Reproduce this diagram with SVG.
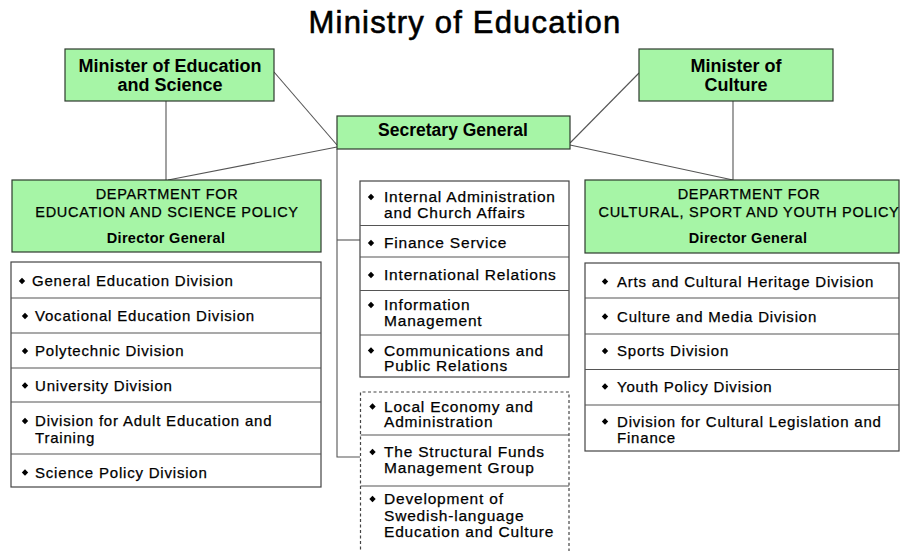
<svg xmlns="http://www.w3.org/2000/svg" width="900" height="551" viewBox="0 0 900 551">
<defs>
<style>
.g{fill:#a6f5a6;stroke:#2e3a2e;stroke-width:1.2}
.w{fill:#fff;stroke:#444;stroke-width:1.2}
.d{fill:#fff;stroke:#444;stroke-width:1.2;stroke-dasharray:3 2.5}
.div{stroke:#555;stroke-width:1.2;fill:none}
.c{stroke:#555;stroke-width:1.1;fill:none}
text{font-family:"Liberation Sans",Arial,sans-serif;fill:#000}
.t{font-size:31px;letter-spacing:1.2px;text-anchor:middle;stroke:#000;stroke-width:0.6}
.m{font-size:18px;font-weight:bold;text-anchor:middle}
.s{font-size:17.5px;font-weight:bold;text-anchor:middle}
.h{font-size:14.5px;letter-spacing:0.7px;text-anchor:middle;stroke:#000;stroke-width:0.25}
.hb{font-size:14.5px;font-weight:bold;letter-spacing:0.3px;text-anchor:middle}
.li{font-size:15px;letter-spacing:0.8px;stroke:#000;stroke-width:0.25}
.ci{font-size:15.5px;letter-spacing:0.8px;stroke:#000;stroke-width:0.25}
</style>
<path id="b" d="M0,-3.2 L3.2,0 L0,3.2 L-3.2,0Z" fill="#000"/>
</defs>
<rect width="900" height="551" fill="#fff"/>
<text class="t" x="465" y="33">Ministry of Education</text>

<g id="connectors">
<line class="c" x1="166" y1="101" x2="166" y2="180"/>
<line class="c" x1="274" y1="72" x2="337" y2="145"/>
<line class="c" x1="337" y1="147" x2="168" y2="180"/>
<line class="c" x1="570" y1="143" x2="639" y2="73"/>
<line class="c" x1="570" y1="145" x2="733" y2="180"/>
<line class="c" x1="733" y1="101" x2="733" y2="180"/>
<polyline class="c" points="337,149 337,457 360,457"/>
<line class="c" x1="337" y1="240" x2="360" y2="240"/>
</g>

<g id="minister-education">
<rect class="g" x="65" y="49" width="209" height="52"/>
<text class="m" x="170" y="72">Minister of Education</text>
<text class="m" x="170" y="91">and Science</text>
</g>

<g id="minister-culture">
<rect class="g" x="639" y="49" width="194" height="52"/>
<text class="m" x="736" y="72">Minister of</text>
<text class="m" x="736" y="91">Culture</text>
</g>

<g id="secretary-general">
<rect class="g" x="337" y="116" width="233" height="33"/>
<text class="s" x="453" y="136">Secretary General</text>
</g>

<g id="dept-education">
<rect class="g" x="12" y="180" width="309" height="72"/>
<text class="h" x="167" y="199">DEPARTMENT FOR</text>
<text class="h" x="167" y="217">EDUCATION AND SCIENCE POLICY</text>
<text class="hb" x="166" y="243">Director General</text>
</g>

<g id="dept-culture">
<rect class="g" x="585" y="180" width="314" height="73"/>
<text class="h" x="749" y="199">DEPARTMENT FOR</text>
<text class="h" x="749" y="217">CULTURAL, SPORT AND YOUTH POLICY</text>
<text class="hb" x="748" y="243">Director General</text>
</g>

<g id="education-divisions">
<rect class="w" x="11" y="262" width="310" height="225"/>
<path class="div" d="M11,298H321M11,333H321M11,368H321M11,402H321M11,454H321"/>
<use href="#b" x="22" y="281"/>
<text class="li" x="32" y="286">General Education Division</text>
<use href="#b" x="25" y="316"/>
<text class="li" x="35" y="321">Vocational Education Division</text>
<use href="#b" x="25" y="351"/>
<text class="li" x="35" y="356">Polytechnic Division</text>
<use href="#b" x="25" y="385.5"/>
<text class="li" x="35" y="390.5">University Division</text>
<use href="#b" x="25" y="421"/>
<text class="li" x="35" y="426">Division for Adult Education and</text>
<text class="li" x="35" y="443">Training</text>
<use href="#b" x="25" y="472.5"/>
<text class="li" x="35" y="477.5">Science Policy Division</text>
</g>

<g id="secretariat-units">
<rect class="w" x="360" y="181" width="209" height="196"/>
<path class="div" d="M360,225.5H569M360,257H569M360,290.5H569M360,335H569"/>
<use href="#b" x="371" y="197"/>
<text class="ci" x="384" y="202">Internal Administration</text>
<text class="ci" x="384" y="217.5">and Church Affairs</text>
<use href="#b" x="371" y="243"/>
<text class="ci" x="384" y="248">Finance Service</text>
<use href="#b" x="371" y="275"/>
<text class="ci" x="384" y="280">International Relations</text>
<use href="#b" x="371" y="305"/>
<text class="ci" x="384" y="310">Information</text>
<text class="ci" x="384" y="325.5">Management</text>
<use href="#b" x="371" y="350.5"/>
<text class="ci" x="384" y="355.5">Communications and</text>
<text class="ci" x="384" y="371">Public Relations</text>
</g>

<g id="attached-units">
<path class="d" d="M360.5,555V392H569V555"/>
<path class="div" d="M360.5,435H569M360.5,486H569"/>
<use href="#b" x="372.5" y="406.5"/>
<text class="ci" x="384" y="411.5">Local Economy and</text>
<text class="ci" x="384" y="427">Administration</text>
<use href="#b" x="372.5" y="452"/>
<text class="ci" x="384" y="457">The Structural Funds</text>
<text class="ci" x="384" y="473">Management Group</text>
<use href="#b" x="372.5" y="499"/>
<text class="ci" x="384" y="504">Development of</text>
<text class="ci" x="384" y="520.5">Swedish-language</text>
<text class="ci" x="384" y="537">Education and Culture</text>
</g>

<g id="culture-divisions">
<rect class="w" x="585" y="263" width="314" height="188"/>
<path class="div" d="M585,298H899M585,334H899M585,369.5H899M585,405H899"/>
<use href="#b" x="605" y="281.5"/>
<text class="li" x="617" y="286.5">Arts and Cultural Heritage Division</text>
<use href="#b" x="605" y="316.5"/>
<text class="li" x="617" y="321.5">Culture and Media Division</text>
<use href="#b" x="605" y="351"/>
<text class="li" x="617" y="356">Sports Division</text>
<use href="#b" x="605" y="386.5"/>
<text class="li" x="617" y="391.5">Youth Policy Division</text>
<use href="#b" x="605" y="421.5"/>
<text class="li" x="617" y="426.5">Division for Cultural Legislation and</text>
<text class="li" x="617" y="443">Finance</text>
</g>
</svg>
